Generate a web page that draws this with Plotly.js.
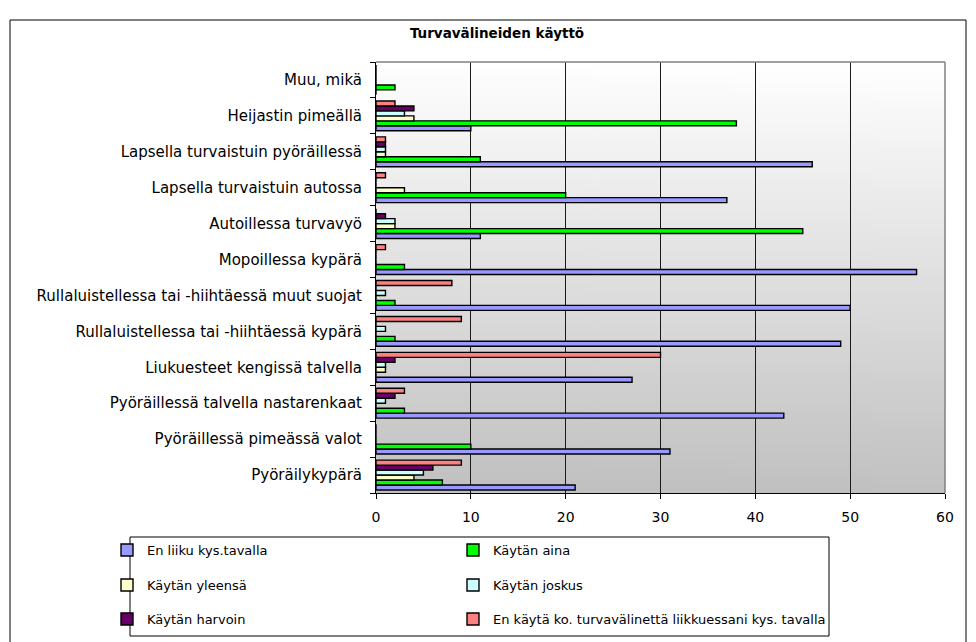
<!DOCTYPE html>
<html><head><meta charset="utf-8">
<script src="https://cdn.plot.ly/plotly-3.0.1.min.js"></script>
<style>html,body{margin:0;padding:0;background:#fff}#chart{width:976px;height:642px}</style>
</head><body><div id="chart"></div>
<script>
// Categories bottom -> top (as on the chart's y axis)
const categories = [
  'Pyöräilykypärä',
  'Pyöräillessä pimeässä valot',
  'Pyöräillessä talvella nastarenkaat',
  'Liukuesteet kengissä talvella',
  'Rullaluistellessa tai -hiihtäessä kypärä',
  'Rullaluistellessa tai -hiihtäessä muut suojat',
  'Mopoillessa kypärä',
  'Autoillessa turvavyö',
  'Lapsella turvaistuin autossa',
  'Lapsella turvaistuin pyöräillessä',
  'Heijastin pimeällä',
  'Muu, mikä'
];
const seriesNames = [
  'En liiku kys.tavalla',
  'Käytän aina',
  'Käytän yleensä',
  'Käytän joskus',
  'Käytän harvoin',
  'En käytä ko. turvavälinettä liikkuessani kys. tavalla'
];
const enLiiku      = [21, 31, 43, 27, 49, 50, 57, 11, 37, 46, 10, 0];
const kaytanAina   = [7, 10, 3, 0, 2, 2, 3, 45, 20, 11, 38, 2];
const kaytanYleensa= [4, 0, 0, 1, 0, 0, 0, 2, 3, 1, 4, 0];
const kaytanJoskus = [5, 0, 1, 1, 1, 1, 0, 2, 0, 1, 3, 0];
const kaytanHarvoin= [6, 0, 2, 2, 0, 0, 0, 1, 0, 1, 4, 0];
const enKayta      = [9, 0, 3, 30, 9, 8, 1, 0, 1, 1, 2, 0];
const xTicks = [0, 10, 20, 30, 40, 50, 60];
const titleText = 'Turvavälineiden käyttö';

const seriesValues = [enLiiku, kaytanAina, kaytanYleensa, kaytanJoskus, kaytanHarvoin, enKayta];
const seriesColors = ['#9999ff', '#00ff00', '#ffffcc', '#ccffff', '#660066', '#ff8080'];
const legendIds = ['legend', 'legend2', 'legend3', 'legend4', 'legend5', 'legend6'];

// pixel geometry
const W = 976, H = 642;
const PL = 376, PR = 945, PT = 62, PB = 493;
const pw = PR - PL, ph = PB - PT;
const px = x => (x - PL) / pw;
const py = y => (PB - y) / ph;

const traces = seriesNames.map((name, i) => ({
  type: 'bar',
  orientation: 'h',
  name: name,
  x: seriesValues[i],
  y: categories,
  legend: legendIds[i],
  marker: { color: seriesColors[i], line: { color: '#000000', width: 1.4 } },
  hoverinfo: 'x+name'
}));

// gradient background image
const cv = document.createElement('canvas');
cv.width = 4; cv.height = 256;
const ctx = cv.getContext('2d');
const grd = ctx.createLinearGradient(0, 0, 0, 256);
grd.addColorStop(0, '#ffffff');
grd.addColorStop(1, '#c0c0c0');
ctx.fillStyle = grd; ctx.fillRect(0, 0, 4, 256);
const bgURL = cv.toDataURL();

const legendFont = { family: 'DejaVu Sans', size: 13, color: '#000' };
const legendCols = [107, 453];
const legendRows = [550, 585, 619];
function legendAt(i) {
  return {
    orientation: 'v', xanchor: 'left', yanchor: 'middle',
    x: px(legendCols[i % 2]), y: py(legendRows[Math.floor(i / 2)]),
    font: legendFont, bgcolor: 'rgba(0,0,0,0)', borderwidth: 0
  };
}

const layout = {
  width: W, height: H,
  margin: { l: PL, r: W - PR, t: PT, b: H - PB, pad: 0, autoexpand: false },
  paper_bgcolor: '#ffffff',
  plot_bgcolor: 'rgba(0,0,0,0)',
  barmode: 'group',
  bargap: 0.17,
  bargroupgap: 0,
  title: {
    text: '<b>' + titleText + '</b>',
    font: { family: 'DejaVu Sans', size: 13.5, color: '#000' },
    x: 497 / W, xref: 'container', xanchor: 'center',
    y: 1 - 33 / H, yref: 'container', yanchor: 'middle'
  },
  xaxis: {
    range: [0, 60], tickvals: xTicks, ticktext: xTicks.map(String),
    showgrid: true, gridcolor: '#1a1a1a', gridwidth: 1,
    showline: true, linecolor: '#000', linewidth: 1,
    ticks: 'outside', ticklen: 5, tickcolor: '#000',
    tickfont: { family: 'DejaVu Sans', size: 14, color: '#000' },
    zeroline: false, fixedrange: true, ticklabelstandoff: 6, automargin: false
  },
  yaxis: {
    type: 'category', categoryorder: 'array', categoryarray: categories,
    showgrid: false, showline: true, linecolor: '#000', linewidth: 1,
    ticks: 'outside', ticklen: 5, tickcolor: '#000', tickson: 'boundaries',
    tickfont: { family: 'DejaVu Sans', size: 15, color: '#000' },
    zeroline: false, fixedrange: true, ticklabelstandoff: 10, automargin: false
  },
  images: [{
    source: bgURL, xref: 'paper', yref: 'paper', x: 0, y: 1,
    sizex: 1, sizey: 1, sizing: 'stretch', layer: 'below', xanchor: 'left', yanchor: 'top'
  }],
  shapes: [
    // outer chart border
    { type: 'rect', xref: 'paper', yref: 'paper', x0: px(10), x1: px(966), y0: py(20), y1: py(650),
      line: { color: '#000', width: 1 }, fillcolor: 'rgba(0,0,0,0)', layer: 'below' },
    // plot area top & right border (gray)
    { type: 'line', xref: 'paper', yref: 'paper', x0: 0, x1: 1, y0: 1, y1: 1, line: { color: '#808080', width: 1.5 } },
    { type: 'line', xref: 'paper', yref: 'paper', x0: 1, x1: 1, y0: 0, y1: 1, line: { color: '#808080', width: 1.5 } },
    // legend box
    { type: 'rect', xref: 'paper', yref: 'paper', x0: px(130), x1: px(829), y0: py(537), y1: py(636),
      line: { color: '#000', width: 1 }, fillcolor: 'rgba(0,0,0,0)' }
  ],
  showlegend: true
};
legendIds.forEach((id, i) => { layout[id] = legendAt(i); });

Plotly.newPlot('chart', traces, layout, { displayModeBar: false, responsive: false });
</script>
</body></html>
